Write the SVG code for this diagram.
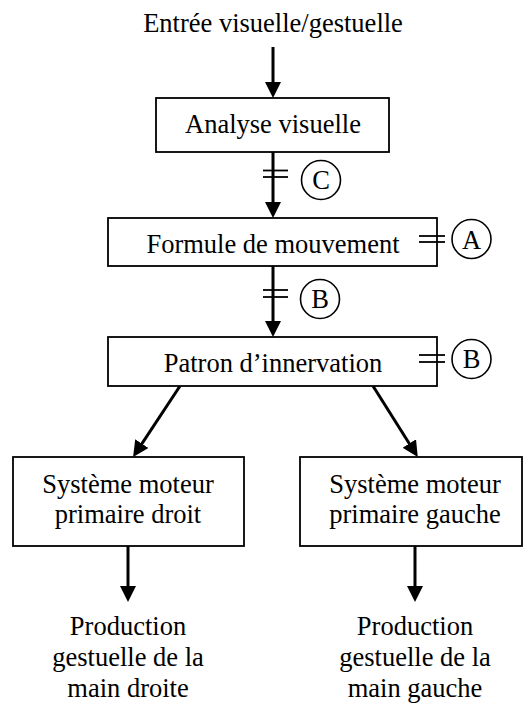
<svg xmlns="http://www.w3.org/2000/svg" width="524" height="704" viewBox="0 0 524 704">
<defs>
<marker id="arr" markerUnits="userSpaceOnUse" markerWidth="16" markerHeight="16" refX="8" refY="8" orient="auto">
<path d="M0,0 L16,8 L0,16 z" fill="#000"/>
</marker>
</defs>
<style>
text{font-family:"Liberation Serif","Times New Roman",serif;font-size:26.5px;fill:#000;text-anchor:middle}
.box{fill:#fff;stroke:#000;stroke-width:1.8}
.conn{stroke:#000;stroke-width:3;fill:none}
.tick{stroke:#000;stroke-width:1.8}
.circ{fill:none;stroke:#000;stroke-width:1.6}
</style>
<rect width="524" height="704" fill="#fff"/>
<g id="connectors">
<line class="conn" x1="273" y1="47" x2="273" y2="90" marker-end="url(#arr)"/>
<line class="conn" x1="273" y1="152" x2="273" y2="210" marker-end="url(#arr)"/>
<line class="conn" x1="273" y1="266" x2="273" y2="329" marker-end="url(#arr)"/>
<line class="conn" x1="180" y1="386" x2="137.5" y2="450.3" marker-end="url(#arr)"/>
<line class="conn" x1="373" y1="386" x2="413.5" y2="450.3" marker-end="url(#arr)"/>
<line class="conn" x1="128" y1="546" x2="128" y2="594" marker-end="url(#arr)"/>
<line class="conn" x1="415" y1="546" x2="415" y2="594" marker-end="url(#arr)"/>
</g>
<g id="input"><text x="273" y="32">Entrée visuelle/gestuelle</text></g>
<g id="analyse">
<rect class="box" x="156" y="98" width="233" height="54"/>
<text x="273" y="133">Analyse visuelle</text>
</g>
<g id="lesionC">
<line class="tick" x1="263" y1="170.5" x2="288" y2="170.5"/>
<line class="tick" x1="263" y1="177" x2="288" y2="177"/>
<circle class="circ" cx="321" cy="180" r="19.5"/>
<text x="321" y="189">C</text>
</g>
<g id="formule">
<rect class="box" x="108" y="218" width="329" height="48"/>
<text x="273" y="253">Formule de mouvement</text>
</g>
<g id="lesionA">
<line class="tick" x1="419" y1="236" x2="445" y2="236"/>
<line class="tick" x1="419" y1="242" x2="445" y2="242"/>
<circle class="circ" cx="471.5" cy="239" r="19.5"/>
<text x="471.5" y="249">A</text>
</g>
<g id="lesionB1">
<line class="tick" x1="263" y1="290" x2="288" y2="290"/>
<line class="tick" x1="263" y1="297" x2="288" y2="297"/>
<circle class="circ" cx="320" cy="299" r="19.5"/>
<text x="320" y="308">B</text>
</g>
<g id="patron">
<rect class="box" x="108" y="337" width="329" height="49"/>
<text x="273" y="371.5">Patron d’innervation</text>
</g>
<g id="lesionB2">
<line class="tick" x1="419" y1="355" x2="445" y2="355"/>
<line class="tick" x1="419" y1="362" x2="445" y2="362"/>
<circle class="circ" cx="471.5" cy="359" r="19.5"/>
<text x="471.5" y="368">B</text>
</g>
<g id="moteurDroit">
<rect class="box" x="13" y="457" width="231" height="89"/>
<text x="128" y="493">Système moteur</text>
<text x="128" y="523">primaire droit</text>
</g>
<g id="moteurGauche">
<rect class="box" x="300" y="457" width="222" height="89"/>
<text x="415" y="493">Système moteur</text>
<text x="415" y="523">primaire gauche</text>
</g>
<g id="prodDroite">
<text x="128" y="635">Production</text>
<text x="128" y="666">gestuelle de la</text>
<text x="128" y="697">main droite</text>
</g>
<g id="prodGauche">
<text x="415" y="635">Production</text>
<text x="415" y="666">gestuelle de la</text>
<text x="415" y="697">main gauche</text>
</g>
</svg>
